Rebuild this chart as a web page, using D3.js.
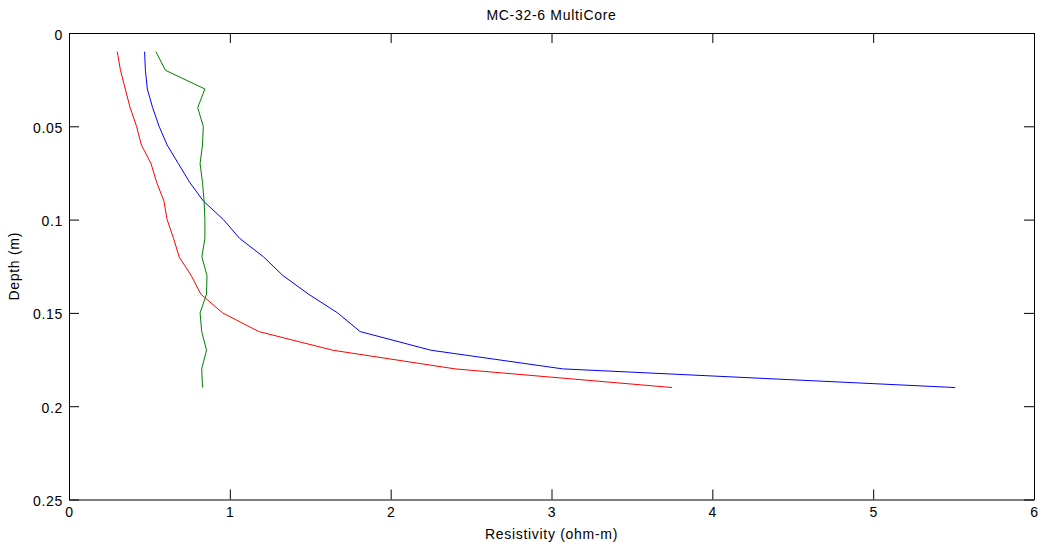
<!DOCTYPE html>
<html>
<head>
<meta charset="utf-8">
<script src="https://cdn.jsdelivr.net/npm/d3@7"></script>
<style>
  html, body { margin: 0; padding: 0; background: #fff; }
  svg { display: block; font-family: "Liberation Sans", Arial, sans-serif; }
  text { letter-spacing: 0.7px; }
</style>
</head>
<body>
<svg id="chart" width="1045" height="552"></svg>
<script>
// Depth samples (m)
const depths = [0.01, 0.02, 0.03, 0.04, 0.05, 0.06, 0.07, 0.08, 0.09, 0.10,
                0.11, 0.12, 0.13, 0.14, 0.15, 0.16, 0.17, 0.18, 0.19];

// Resistivity profiles (ohm-m)
const redSeries   = [0.30, 0.32, 0.35, 0.38, 0.42, 0.45, 0.51, 0.545, 0.59, 0.61,
                     0.65, 0.685, 0.76, 0.82, 0.955, 1.18, 1.64, 2.40, 3.75];
const blueSeries  = [0.47, 0.475, 0.487, 0.52, 0.56, 0.61, 0.68, 0.75, 0.835, 0.96,
                     1.06, 1.21, 1.33, 1.49, 1.67, 1.81, 2.25, 3.07, 5.51];
const greenSeries = [0.54, 0.60, 0.845, 0.80, 0.835, 0.83, 0.815, 0.83, 0.84, 0.845,
                     0.845, 0.826, 0.858, 0.855, 0.815, 0.825, 0.855, 0.825, 0.83];

const xTicks = [0, 1, 2, 3, 4, 5, 6];
const yTicks = [0, 0.05, 0.1, 0.15, 0.2, 0.25];

const series = [
  { values: redSeries,   color: "#ff0000" },
  { values: blueSeries,  color: "#0000ff" },
  { values: greenSeries, color: "#008000" }
];

const svg = d3.select("#chart");
const plotLeft = 69, plotRight = 1034, plotTop = 33, plotBottom = 499.5;

const x = d3.scaleLinear().domain([0, 6]).range([plotLeft, plotRight]);
const y = d3.scaleLinear().domain([0, 0.25]).range([plotTop, plotBottom]);

const tickLen = 10;
const fontSize = 14;
const fmtY = d => d === 0 ? "0" : String(+d.toFixed(2));
const fontFamily = "\"Liberation Sans\", Arial, sans-serif";

function styleAxis(g, showLabels) {
  g.select(".domain").attr("stroke", "#000").attr("stroke-width", 1);
  g.selectAll(".tick line").attr("stroke", "#000");
  g.selectAll(".tick text").attr("fill", "#000").attr("font-size", fontSize)
    .attr("font-family", fontFamily);
  if (!showLabels) g.selectAll(".tick text").remove();
}

// Bottom axis with labels
const gBottom = svg.append("g").attr("transform", `translate(0,${plotBottom})`)
  .call(d3.axisBottom(x).tickValues(xTicks).tickFormat(d3.format("d"))
    .tickSizeInner(-tickLen).tickSizeOuter(0).tickPadding(4));
styleAxis(gBottom, true);
gBottom.selectAll(".tick text").attr("y", 17.5).attr("dy", null);

// Top axis (ticks only)
const gTop = svg.append("g").attr("transform", `translate(0,${plotTop})`)
  .call(d3.axisTop(x).tickValues(xTicks).tickSizeInner(-tickLen).tickSizeOuter(0));
styleAxis(gTop, false);

// Left axis with labels
const gLeft = svg.append("g").attr("transform", `translate(${plotLeft},0)`)
  .call(d3.axisLeft(y).tickValues(yTicks).tickFormat(fmtY)
    .tickSizeInner(-tickLen).tickSizeOuter(0).tickPadding(4));
styleAxis(gLeft, true);
gLeft.selectAll(".tick text").attr("x", -6).attr("dy", null).attr("y", 6);

// Right axis (ticks only)
const gRight = svg.append("g").attr("transform", `translate(${plotRight},0)`)
  .call(d3.axisRight(y).tickValues(yTicks).tickSizeInner(-tickLen).tickSizeOuter(0));
styleAxis(gRight, false);

// Profiles
const line = d3.line()
  .x(d => x(d[0]))
  .y(d => y(d[1]));

series.forEach(s => {
  svg.append("path")
    .datum(s.values.map((v, i) => [v, depths[i]]))
    .attr("fill", "none")
    .attr("stroke", s.color)
    .attr("stroke-width", 1)
    .attr("d", line);
});

// Title and axis labels
svg.append("text")
  .attr("x", (plotLeft + plotRight) / 2).attr("y", 20)
  .attr("text-anchor", "middle").attr("font-size", fontSize)
  .text("MC-32-6 MultiCore");

svg.append("text")
  .attr("x", (plotLeft + plotRight) / 2).attr("y", 539)
  .attr("text-anchor", "middle").attr("font-size", fontSize)
  .text("Resistivity (ohm-m)");

svg.append("text")
  .attr("transform", `translate(19,${(plotTop + plotBottom) / 2}) rotate(-90)`)
  .attr("text-anchor", "middle").attr("font-size", fontSize)
  .text("Depth (m)");
</script>
</body>
</html>
